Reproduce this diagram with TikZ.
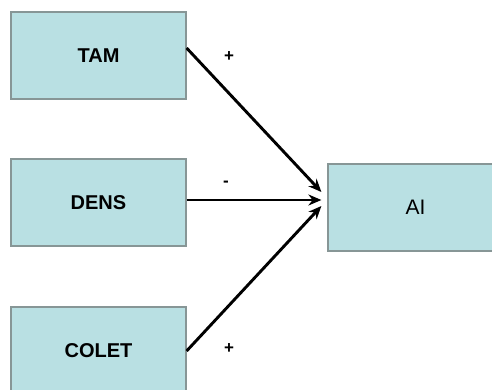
\documentclass[tikz,border=0pt]{standalone}
\usepackage{fontspec}
\setmainfont{Liberation Sans}
\usetikzlibrary{arrows.meta}
\definecolor{boxfill}{RGB}{185,224,227}
\definecolor{boxline}{RGB}{135,150,150}
\begin{document}
\begin{tikzpicture}[x=1pt,y=-1pt,
  varbox/.style={draw=boxline, line width=1.2pt, fill=boxfill,
    minimum width=175pt, minimum height=87pt, inner sep=0pt,
    font=\fontsize{20}{24}\selectfont\bfseries},
  arr/.style={line width=2.9pt, -{Stealth[length=13pt,width=11pt]}},
  sign/.style={font=\fontsize{17}{20}\selectfont\bfseries, inner sep=0pt}]
\useasboundingbox (0,0) rectangle (492,389);
\node[varbox] (tam)   at (98.5,55.5)  {TAM};
\node[varbox] (dens)  at (98.5,202.5) {DENS};
\node[varbox] (colet) at (98.5,350.5) {COLET};
\node[varbox, font=\fontsize{21}{24}\selectfont] (ai) at (415.5,207.5) {AI};
\coordinate (tipA) at ([xshift=-6pt,yshift=15.5pt]ai.west);
\coordinate (tipB) at ([xshift=-6pt,yshift=7.5pt]ai.west);
\coordinate (tipC) at ([xshift=-6pt,yshift=1.5pt]ai.west);
\draw[arr] ([yshift=7.5pt]tam.east) -- (tipA);
\draw[arr] ([yshift=2.5pt]dens.east) -- (tipB);
\draw[arr] ([yshift=-0.5pt]colet.east) -- (tipC);
\node[sign] (s1) at (229,57) {+};
\node[sign] (s2) at (226,184) {-};
\node[sign] (s3) at (229,349) {+};
\end{tikzpicture}
\end{document}
